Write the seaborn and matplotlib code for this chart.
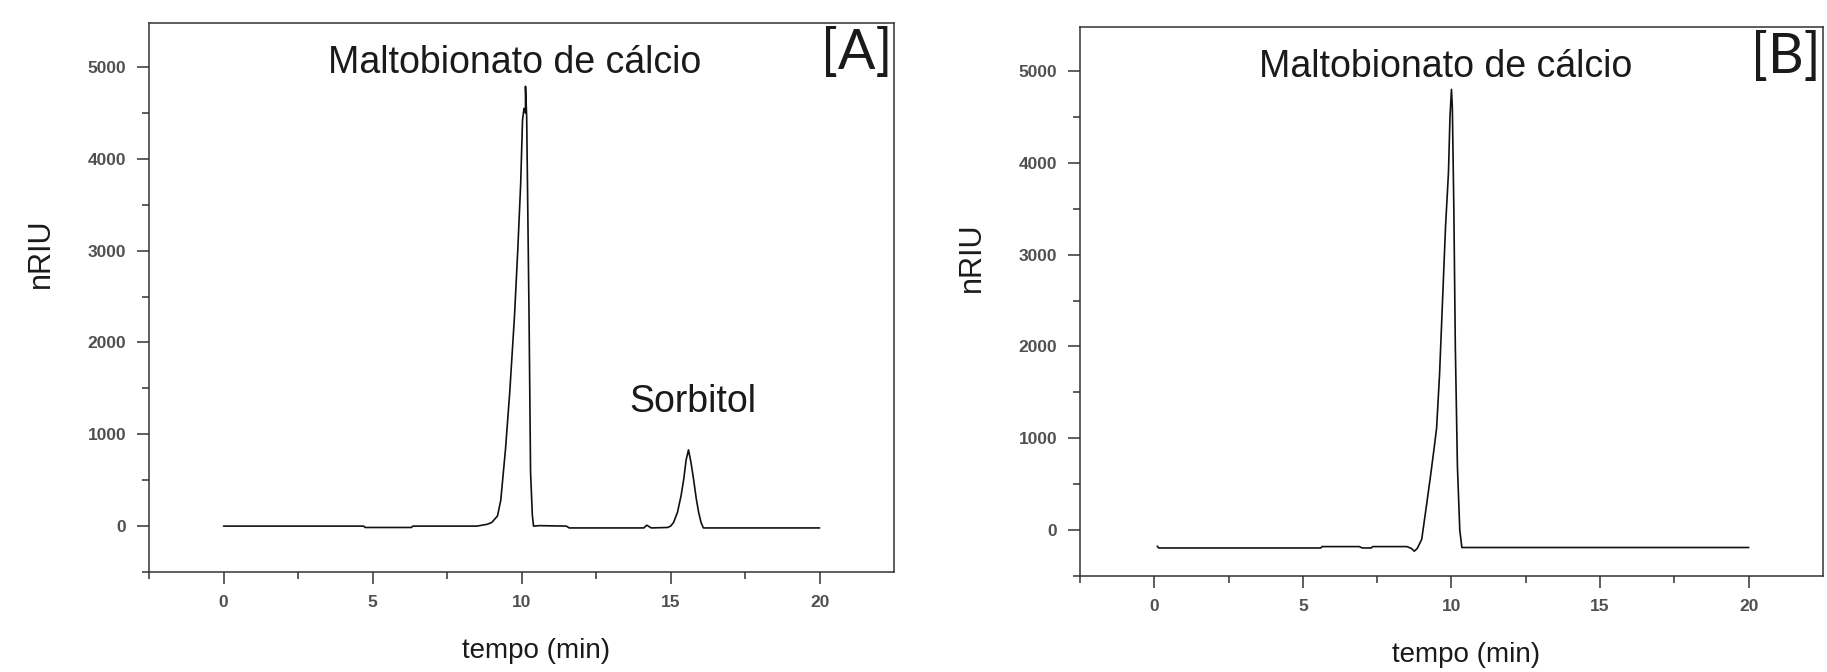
import numpy as np
import pandas as pd
import matplotlib
matplotlib.use("Agg")
import matplotlib.pyplot as plt
import seaborn as sns

# chromatogram A (with sorbitol)
tempo_a = [0.0, 4.7, 4.75, 6.3, 6.35, 8.5, 8.85, 9.0, 9.19, 9.3, 9.46, 9.6, 9.76, 9.87,
           9.97, 10.03, 10.08, 10.13, 10.13, 10.17, 10.25, 10.30, 10.36, 10.40, 10.6,
           11.5, 11.6, 12.5, 14.1, 14.2, 14.35, 14.9, 15.0, 15.1, 15.23, 15.35, 15.44,
           15.52, 15.6, 15.68, 15.77, 15.86, 15.94, 16.02, 16.1, 20.0]
nriu_a = [0, 0, -15, -15, 0, 0, 20, 40, 110, 280, 840, 1450, 2280, 3000,
          3740, 4420, 4550, 4500, 4790, 4460, 2280, 590, 120, 0, 5,
          0, -20, -20, -20, 10, -20, -15, 0, 40, 150, 330, 510,
          720, 830, 700, 510, 300, 150, 40, -20, -20]

# chromatogram B (pure product)
tempo_b = [0.1, 0.15, 5.6, 5.65, 6.9, 7.0, 7.3, 7.35, 8.5, 8.65, 8.75, 8.85, 9.0, 9.16,
           9.3, 9.4, 9.5, 9.6, 9.7, 9.8, 9.9, 9.95, 10.0, 10.03, 10.08, 10.13, 10.2,
           10.28, 10.35, 20.0]
nriu_b = [-175, -195, -195, -180, -180, -195, -195, -180, -180, -200, -230, -200, -100, 270,
          600, 850, 1110, 1700, 2500, 3300, 3900, 4500, 4800, 4600, 3500, 2000, 700,
          0, -190, -190]

df_a = pd.DataFrame({"tempo": tempo_a, "nRIU": nriu_a})
df_b = pd.DataFrame({"tempo": tempo_b, "nRIU": nriu_b})

picos_a = [("Maltobionato de cálcio", 9.75, 4930), ("Sorbitol", 15.75, 1240)]
picos_b = [("Maltobionato de cálcio", 9.8, 4935)]

sns.set_theme(style="white")
plt.rcParams["font.family"] = ["Liberation Sans", "DejaVu Sans"]

fig = plt.figure(figsize=(18.27, 6.72), dpi=100)
ax_a = fig.add_axes([0.0816, 0.1488, 0.4078, 0.8170])
ax_b = fig.add_axes([0.5911, 0.1429, 0.4067, 0.8170])

for ax, df, picos, letra in [(ax_a, df_a, picos_a, "[A]"), (ax_b, df_b, picos_b, "[B]")]:
    sns.lineplot(x="tempo", y="nRIU", data=df, ax=ax, estimator=None, sort=False,
                 color="#111111", lw=1.2)
    ax.set_xlim(-2.5, 22.5)
    ax.set_ylim(-500, 5480)
    ax.set_xticks([0, 5, 10, 15, 20])
    ax.set_xticks([-2.5, 2.5, 7.5, 12.5, 17.5], minor=True)
    ax.set_yticks([0, 1000, 2000, 3000, 4000, 5000])
    ax.set_yticks([-500, 500, 1500, 2500, 3500, 4500], minor=True)
    ax.tick_params(which="major", direction="out", length=8.5, width=1.1, pad=8,
                   labelsize=12.5, labelcolor="#505050", color="#333333",
                   bottom=True, left=True)
    ax.tick_params(which="minor", direction="out", length=5, width=1.1, color="#333333",
                   bottom=True, left=True)
    for lab in ax.get_xticklabels() + ax.get_yticklabels():
        lab.set_fontweight("bold")
    for sp in ax.spines.values():
        sp.set_color("#333333")
        sp.set_linewidth(1.1)
    ax.set_xlabel("tempo (min)", fontsize=20, color="#1a1a1a")
    ax.xaxis.set_label_coords(0.52, -0.12)
    ax.set_ylabel("nRIU", fontsize=22, color="#1a1a1a")
    for nome, x, y in picos:
        ax.text(x, y, nome, fontsize=27, ha="center", va="baseline", color="#1a1a1a")
    ax.text(0.95, 0.945, letra, transform=ax.transAxes, fontsize=40, ha="center",
            va="center", color="#1a1a1a", family=["Lato", "DejaVu Sans"], fontweight="normal")

ax_a.yaxis.set_label_coords(-0.125, 0.58)
ax_b.yaxis.set_label_coords(-0.125, 0.58)

fig.savefig("out.png", dpi=100)
